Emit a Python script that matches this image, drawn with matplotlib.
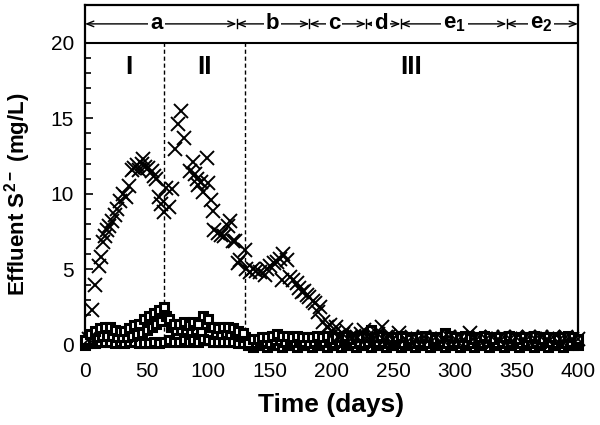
import matplotlib
matplotlib.use("Agg")
import matplotlib.pyplot as plt
import numpy as np
from matplotlib.ticker import MultipleLocator, FixedLocator

# -------------------------------------------------
# Data
# -------------------------------------------------

# effluent S2- (x markers), phases I and II
x_days_a = [3, 5.5, 8, 11, 13, 15, 16, 17.5, 19.5, 22,
            24, 26, 28.5, 31, 33, 36, 38, 40, 42, 44,
            46, 47, 49, 51, 54, 56, 58, 60, 62, 64,
            66, 68, 70.5, 73, 75.5, 78, 80, 85, 87.5, 89,
            91, 92, 94, 96, 99, 100, 102, 104, 105, 108,
            110, 113, 116, 118, 120, 122, 124, 126, 130]
x_vals_a = [0.4, 2.3, 4.0, 5.2, 5.8, 6.8, 7.2, 7.6, 7.9, 8.2,
            8.6, 9.0, 9.5, 10.0, 9.8, 10.5, 11.6, 11.7, 11.9, 11.6,
            12.0, 12.3, 11.8, 11.7, 11.5, 11.2, 11.0, 9.8, 9.3, 8.8,
            10.4, 9.1, 10.3, 13.0, 14.6, 15.5, 13.7, 11.5, 12.1, 11.3,
            11.0, 10.6, 10.8, 10.1, 12.4, 10.7, 9.6, 8.9, 7.6, 7.4,
            7.3, 7.2, 7.9, 8.2, 6.9, 6.9, 5.4, 5.6, 6.3]

# effluent S2- (x markers), phase III
x_days_b = [131, 134, 136, 139, 142, 146, 148, 150, 153, 156,
            158, 160, 161, 164, 166, 169, 172, 174, 176, 178,
            180, 182, 185, 187, 189, 191, 193, 196, 199, 202,
            204, 206, 209, 212, 215, 218, 221, 224, 226, 229,
            232, 235, 238, 241, 244, 247, 250, 255, 260, 265,
            270, 275, 280, 285, 290, 295, 300, 305, 312, 315,
            320, 325, 330, 335, 340, 345, 350, 355, 360, 365,
            370, 375, 380, 385, 390, 395, 400]
x_vals_b = [5.0, 4.8, 5.0, 4.9, 4.8, 4.6, 5.0, 5.2, 5.4, 5.5,
            5.7, 4.3, 6.0, 5.6, 4.5, 4.3, 4.1, 3.8, 3.5, 3.6,
            3.3, 3.2, 2.9, 2.8, 2.2, 2.5, 1.5, 1.2, 1.3, 0.8,
            1.2, 0.6, 0.7, 1.0, 0.5, 0.6, 0.5, 0.7, 1.0, 0.5,
            0.6, 0.5, 0.7, 1.2, 0.5, 0.6, 0.4, 0.8, 0.4, 0.5,
            0.4, 0.5, 0.4, 0.5, 0.4, 0.5, 0.4, 0.5, 0.8, 0.4,
            0.5, 0.4, 0.5, 0.4, 0.5, 0.4, 0.5, 0.4, 0.5, 0.4,
            0.5, 0.4, 0.5, 0.4, 0.5, 0.4, 0.4]

# square markers, upper series sampled every 4 days (0..400)
sq_days_upper = list(range(0, 401, 4))
sq_upper = [0.3, 0.7, 0.9, 1.1, 1.2, 1.2, 1.0, 0.9, 0.9, 1.1,
            1.3, 1.4, 1.7, 1.9, 2.1, 2.3, 2.5, 1.7, 1.4, 1.4,
            1.5, 1.3, 1.5, 1.4, 1.9, 1.7, 1.2, 1.1, 1.2, 1.2,
            1.1, 0.9, 0.8, 0.1, 0.4, 0.4, 0.5, 0.5, 0.6, 0.7,
            0.6, 0.6, 0.5, 0.6, 0.5, 0.5, 0.5, 0.6, 0.5, 0.6,
            0.4, 0.5, 0.5, 0.6, 0.4, 0.5, 0.6, 0.5, 1.0, 0.5,
            0.6, 0.5, 0.4, 0.5, 0.6, 0.5, 0.4, 0.5, 0.5, 0.6,
            0.5, 0.4, 0.5, 0.8, 0.6, 0.5, 0.5, 0.6, 0.5, 0.4,
            0.5, 0.6, 0.5, 0.4, 0.5, 0.5, 0.6, 0.5, 0.4, 0.5,
            0.5, 0.6, 0.5, 0.4, 0.5, 0.5, 0.4, 0.5, 0.6, 0.5,
            0.4]

# square markers, lower series, offset by 2 days (2..398)
sq_days_lower = list(range(2, 400, 4))
sq_lower = [0.1, 0.3, 0.5, 0.6, 0.6, 0.6, 0.5, 0.5, 0.5, 0.6,
            0.7, 0.8, 1.0, 1.2, 1.4, 1.6, 1.9, 1.2, 1.0, 1.0,
            1.0, 0.9, 1.0, 0.9, 1.4, 1.2, 0.8, 0.7, 0.8, 0.7,
            0.7, 0.6, 0.5, 0.0, 0.1, 0.2, 0.2, 0.1, 0.3, 0.3,
            0.2, 0.3, 0.2, 0.3, 0.2, 0.1, 0.2, 0.3, 0.2, 0.2,
            0.1, 0.2, 0.3, 0.2, 0.1, 0.2, 0.1, 0.2, 0.3, 0.2,
            0.2, 0.1, 0.2, 0.3, 0.1, 0.2, 0.1, 0.2, 0.2, 0.1,
            0.2, 0.1, 0.2, 0.1, 0.2, 0.2, 0.1, 0.2, 0.1, 0.2,
            0.1, 0.2, 0.2, 0.1, 0.2, 0.1, 0.2, 0.2, 0.1, 0.2,
            0.1, 0.2, 0.1, 0.2, 0.2, 0.1, 0.2, 0.1, 0.2, 0.2]

# base row of squares (close to zero)
sq_base = [0.0, 0.1, 0.1, 0.2, 0.2, 0.2, 0.1, 0.2, 0.1, 0.2,
           0.2, 0.1, 0.1, 0.1, 0.2, 0.1, 0.2, 0.3, 0.2, 0.2,
           0.3, 0.2, 0.3, 0.2, 0.4, 0.3, 0.2, 0.2, 0.2, 0.2,
           0.2, 0.1, 0.1, 0.0, -0.1, 0.0, 0.0, -0.1, 0.0, 0.0,
           -0.1, 0.0, 0.0, -0.1, 0.0, 0.0, -0.1, 0.0, 0.0, -0.1,
           0.0, 0.0, -0.1, 0.0, 0.0, -0.1, 0.0, 0.0, -0.1, 0.0,
           0.0, -0.1, 0.0, 0.0, -0.1, 0.0, 0.0, -0.1, 0.0, 0.0,
           -0.1, 0.0, 0.0, -0.1, 0.0, 0.0, -0.1, 0.0, 0.0, -0.1,
           0.0, 0.0, -0.1, 0.0, 0.0, -0.1, 0.0, 0.0, -0.1, 0.0,
           0.0, -0.1, 0.0, 0.0, -0.1, 0.0, 0.0, -0.1, 0.0, 0.0,
           0.0]

# phase boundaries and labels
phase_lines = [64, 130]
phase_labels = ["I", "II", "III"]
phase_label_x = [36, 97, 265]

# operating periods along the top band
period_edges = [0, 123, 182, 228, 256, 342, 400]
period_labels = ["a", "b", "c", "d", r"$\mathbf{e_1}$", r"$\mathbf{e_2}$"]
period_label_x = [58, 152, 202, 240, 300, 370]

# -------------------------------------------------
# Figure
# -------------------------------------------------

plt.rcParams["font.family"] = ["Liberation Sans", "DejaVu Sans"]
plt.rcParams["mathtext.fontset"] = "custom"
plt.rcParams["mathtext.rm"] = "Liberation Sans"
plt.rcParams["mathtext.bf"] = "Liberation Sans:bold"

fig = plt.figure(figsize=(6, 4.25), dpi=100)
ax = fig.add_axes([85 / 600, 80 / 425, 493 / 600, 340 / 425])

sq_style = dict(linestyle="none", marker="s", markersize=5.8,
                markerfacecolor="white", markeredgecolor="black",
                markeredgewidth=2.2, clip_on=False, zorder=3)
ax.plot(sq_days_upper, sq_base, **sq_style)
ax.plot(sq_days_lower, sq_lower, **sq_style)
ax.plot(sq_days_upper, sq_upper, **sq_style)
ax.plot(x_days_a + x_days_b, x_vals_a + x_vals_b, linestyle="none",
        marker="x", markersize=10.5, markeredgewidth=1.4, color="black",
        clip_on=False, zorder=4)

for xv in phase_lines:
    ax.plot([xv, xv], [0, 20], linestyle="--", color="black", linewidth=1,
            dashes=(3, 2), zorder=2)

for lab, xv in zip(phase_labels, phase_label_x):
    ax.text(xv, 18.4, lab, ha="center", va="center", fontsize=19,
            fontweight="bold")

# top band
ax.axhline(20, color="black", linewidth=1.5)
band_y = 21.25
for i, lab in enumerate(period_labels):
    s, e = period_edges[i], period_edges[i + 1]
    ax.annotate("", xy=(s, band_y), xytext=(e, band_y),
                arrowprops=dict(arrowstyle="<->,head_length=0.5,head_width=0.2",
                                color="black", linewidth=1,
                                shrinkA=0, shrinkB=0))
    ax.text(period_label_x[i], band_y + 0.05, lab, ha="center", va="center",
            fontsize=16, fontweight="bold",
            bbox=dict(facecolor="white", edgecolor="none", pad=1.5))
for xv in period_edges[1:-1]:
    ax.plot([xv, xv], [20.95, 21.55], color="black", linewidth=1)

ax.set_xlim(0, 400)
ax.set_ylim(0, 22.5)
ax.set_xticks([0, 50, 100, 150, 200, 250, 300, 350, 400])
ax.set_yticks([0, 5, 10, 15, 20])
ax.xaxis.set_minor_locator(MultipleLocator(10))
ax.yaxis.set_minor_locator(FixedLocator(np.arange(0, 21, 1)))
ax.tick_params(which="both", direction="in", labelsize=15, width=1.2,
               top=False, right=False)
ax.tick_params(axis="x", which="major", pad=12)
ax.tick_params(axis="y", which="major", pad=8)
ax.tick_params(which="major", length=6)
ax.tick_params(which="minor", length=4)
for sp in ax.spines.values():
    sp.set_linewidth(1.6)

ax.set_xlabel("Time (days)", fontsize=19, fontweight="bold", labelpad=9)
ax.set_ylabel(r"Effluent S$\mathbf{^{2-}}$ (mg/L)", fontsize=16,
              fontweight="bold")
ax.yaxis.set_label_coords(-0.105, 10 / 22.5)

fig.savefig("out.png", dpi=100)
